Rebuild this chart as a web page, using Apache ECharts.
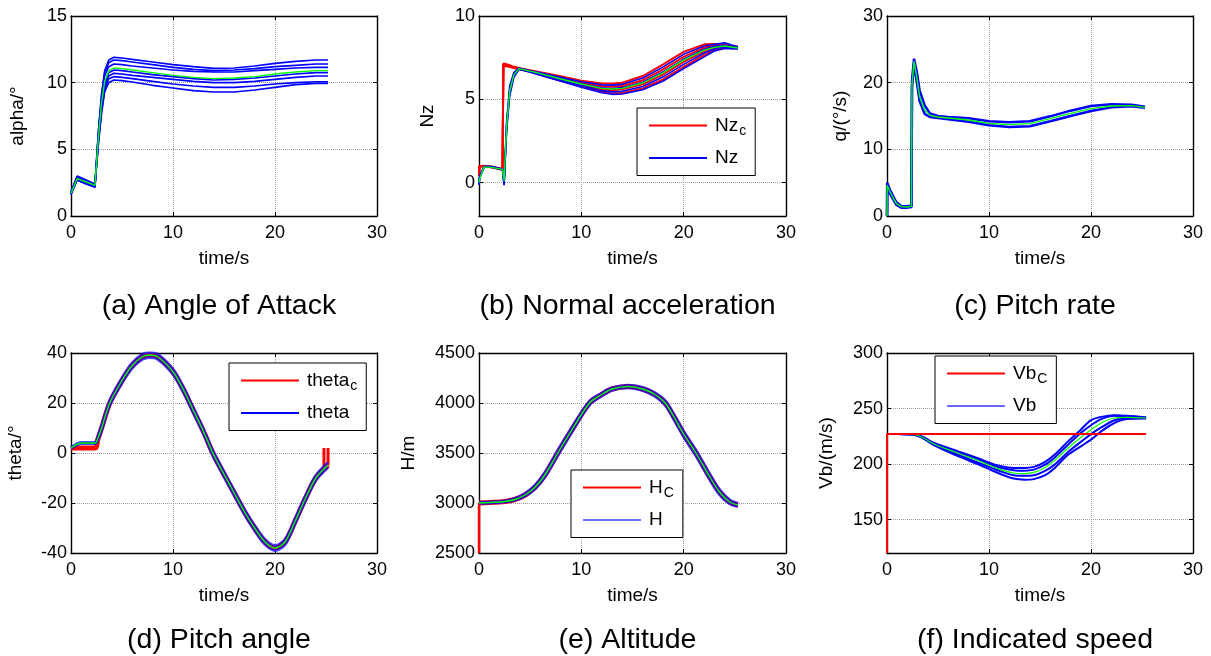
<!DOCTYPE html>
<html lang="en">
<head>
<meta charset="UTF-8">
<title>Flight response</title>
<script src="https://cdn.jsdelivr.net/npm/echarts@6/dist/echarts.min.js"></script>
<style>
  html, body { margin: 0; padding: 0; background: #fff; }
  #chart { width: 1211px; height: 656px; }
</style>
</head>
<body>
<div id="chart"></div>
<script>
// (a) angle of attack
var tA = [0, 0.6, 1.5, 2.35, 2.45, 2.7, 3.0, 3.3, 3.7, 4.2, 5, 6, 8, 10, 12, 14, 16, 18, 20, 22, 24, 25.2];
var alphaNom = [1.7, 2.8, 2.55, 2.3, 3.4, 6.0, 8.5, 10.1, 10.9, 11.1, 11.05, 10.95, 10.75, 10.55, 10.4, 10.3, 10.35, 10.45, 10.65, 10.8, 10.9, 10.9];
var alpha1 = [1.8, 3.0, 2.7, 2.4, 3.6, 6.5, 9.2, 10.9, 11.7, 11.9, 11.85, 11.75, 11.55, 11.35, 11.2, 11.07, 11.1, 11.25, 11.45, 11.6, 11.7, 11.7];
var alpha2 = [1.8, 2.95, 2.65, 2.35, 3.5, 6.4, 9.0, 10.7, 11.5, 11.7, 11.65, 11.55, 11.35, 11.15, 11.0, 10.9, 10.95, 11.05, 11.2, 11.3, 11.4, 11.4];
var alpha3 = [1.75, 2.9, 2.6, 2.3, 3.5, 6.3, 8.8, 10.5, 11.2, 11.4, 11.35, 11.25, 11.1, 10.95, 10.85, 10.8, 10.8, 10.9, 11.0, 11.1, 11.15, 11.15];
var alpha4 = [1.7, 2.8, 2.5, 2.25, 3.4, 5.9, 8.3, 9.9, 10.75, 10.95, 10.9, 10.8, 10.6, 10.45, 10.3, 10.2, 10.25, 10.35, 10.5, 10.65, 10.75, 10.75];
var alpha5 = [1.65, 2.75, 2.45, 2.2, 3.3, 5.8, 8.1, 9.7, 10.5, 10.7, 10.65, 10.55, 10.4, 10.25, 10.1, 10.0, 10.0, 10.1, 10.25, 10.4, 10.5, 10.5];
var alpha6 = [1.65, 2.7, 2.4, 2.2, 3.3, 5.6, 7.9, 9.5, 10.3, 10.45, 10.4, 10.3, 10.1, 9.9, 9.75, 9.65, 9.65, 9.75, 9.9, 10.0, 10.07, 10.07];
var alpha7 = [1.6, 2.7, 2.4, 2.15, 3.2, 5.5, 7.7, 9.3, 10.0, 10.2, 10.15, 10.05, 9.8, 9.6, 9.4, 9.3, 9.3, 9.45, 9.65, 9.85, 9.95, 9.95];

// (b) normal acceleration
var tB = [0, 0.05, 0.5, 1.2, 2.3, 2.38, 2.45, 2.7, 3.0, 3.4, 3.9, 5, 6, 8, 10, 12, 13, 14, 16, 18, 20, 22, 23, 24, 25.3];
var nzCmd1 = [0.4, 1.0, 1.02, 0.97, 0.82, 7.15, 7.15, 7.1, 7.05, 6.95, 6.88, 6.75, 6.62, 6.38, 6.12, 5.95, 5.95, 6.0, 6.4, 7.1, 7.85, 8.3, 8.32, 8.3, 8.15];
var nzCmd2 = [0.4, 1.0, 1.0, 0.95, 0.8, 7.1, 7.1, 7.05, 7.0, 6.92, 6.85, 6.7, 6.57, 6.28, 6.0, 5.78, 5.75, 5.8, 6.15, 6.8, 7.55, 8.1, 8.25, 8.28, 8.12];
var nzCmd3 = [0.4, 0.98, 0.98, 0.93, 0.78, 7.05, 7.05, 7.0, 6.97, 6.9, 6.83, 6.68, 6.52, 6.2, 5.88, 5.6, 5.55, 5.6, 5.9, 6.5, 7.25, 7.9, 8.1, 8.2, 8.1];
var nzCmd4 = [0.4, 0.97, 0.97, 0.92, 0.77, 7.0, 7.0, 6.98, 6.95, 6.88, 6.8, 6.65, 6.48, 6.12, 5.78, 5.45, 5.35, 5.38, 5.65, 6.2, 6.95, 7.65, 7.95, 8.1, 8.05];
var nz1 = [-0.1, 0.35, 0.98, 0.97, 0.82, 0.72, -0.1, 3.7, 5.8, 6.6, 6.88, 6.72, 6.6, 6.33, 6.06, 5.87, 5.85, 5.9, 6.28, 6.95, 7.7, 8.2, 8.3, 8.4, 8.14];
var nz2 = [-0.1, 0.3, 0.96, 0.95, 0.8, 0.7, -0.15, 3.5, 5.6, 6.5, 6.85, 6.69, 6.55, 6.24, 5.94, 5.69, 5.65, 5.7, 6.02, 6.65, 7.4, 8.0, 8.18, 8.25, 8.1];
var nz3 = [-0.1, 0.28, 0.95, 0.94, 0.79, 0.69, -0.1, 3.3, 5.4, 6.4, 6.82, 6.66, 6.5, 6.16, 5.83, 5.52, 5.45, 5.48, 5.77, 6.35, 7.1, 7.78, 8.02, 8.15, 8.06];
var nz4 = [-0.1, 0.25, 0.94, 0.93, 0.78, 0.68, -0.05, 3.1, 5.2, 6.3, 6.8, 6.63, 6.45, 6.08, 5.72, 5.4, 5.3, 5.32, 5.58, 6.1, 6.85, 7.55, 7.9, 8.05, 8.02];
var nzNom = [0.0, 0.2, 0.95, 0.92, 0.8, 0.74, 0.1, 3.4, 5.5, 6.45, 6.84, 6.69, 6.54, 6.22, 5.92, 5.66, 5.62, 5.66, 5.98, 6.6, 7.35, 7.95, 8.12, 8.2, 8.08];

// (c) pitch rate
var tC = [0, 0.02, 0.3, 0.9, 1.4, 1.9, 2.4, 2.45, 2.65, 2.95, 3.2, 3.7, 4.2, 5, 6, 8, 10, 12, 14, 16, 18, 20, 22, 24, 25.3];
var qNom = [0, 4.6, 3.6, 1.9, 1.4, 1.35, 1.45, 19.8, 23.2, 20.5, 17.9, 15.9, 15.1, 14.85, 14.7, 14.4, 13.9, 13.7, 13.85, 14.6, 15.4, 16.1, 16.5, 16.55, 16.3];
var qHi = [0, 5.0, 3.9, 2.1, 1.5, 1.45, 1.55, 20.3, 23.6, 21.4, 18.8, 16.6, 15.4, 15.0, 14.85, 14.65, 14.2, 14.05, 14.2, 14.95, 15.8, 16.5, 16.75, 16.7, 16.4];
var qLo = [0, 4.2, 3.3, 1.7, 1.25, 1.25, 1.35, 19.3, 22.8, 19.8, 17.2, 15.3, 14.85, 14.7, 14.5, 14.15, 13.6, 13.35, 13.45, 14.2, 15.0, 15.75, 16.3, 16.45, 16.25];

// (d) pitch angle
var tD = [0, 0.5, 1.0, 2.4, 2.6, 3.0, 3.8, 5, 6, 7, 7.7, 8.5, 10, 11, 12, 13, 13.9, 15, 16, 17, 18, 19, 20, 21, 22, 23, 24, 25.2];
var thetaNom = [2.0, 3.3, 4.0, 4.0, 5.5, 10, 20, 29, 35, 38.5, 39.2, 38.5, 32.5, 25.5, 17, 8.5, 0, -8.5, -16, -23.5, -30, -35.5, -38, -35.5, -27, -18, -10, -4.8];
var thetaHi = [2.2, 3.5, 4.2, 4.2, 6.3, 11, 21, 30, 36, 39.5, 40.2, 39.5, 33.5, 26.5, 18, 9.5, 1, -7.5, -15, -22.5, -29, -34.5, -37, -34.5, -26, -17, -9, -3.8];
var thetaLo = [1.8, 3.1, 3.8, 3.8, 4.8, 9, 19, 28, 34, 37.5, 38.2, 37.5, 31.5, 24.5, 16, 7.5, -1, -9.5, -17, -24.5, -31, -36.5, -39, -36.5, -28, -19, -11, -5.8];
var tDCmd = [0, 0.5, 1.0, 2.4, 2.6, 3.0, 3.8, 5, 6, 7, 7.7, 8.5, 10, 11, 12, 13, 13.9, 15, 16, 17, 18, 19, 20, 21, 22, 23, 24, 25.2];
var thetaCmd = [2.0, 2.0, 2.0, 2.0, 5.0, 10, 20, 29, 35, 38.5, 39.2, 38.5, 32.5, 25.5, 17, 8.5, 0, -8.5, -16, -23.5, -30, -35.5, -38, -35.5, -27, -18, -10, -4.8];
var tDCmdEnd1 = [25.2, 25.2];
var thetaCmdEnd1 = [-4.8, 2.0];
var tDCmdEnd2 = [24.8, 24.8];
var thetaCmdEnd2 = [-6.5, 2.0];

// (e) altitude
var tE = [0, 1, 2.5, 3.5, 4.5, 5.5, 6.5, 7.7, 9, 10.8, 12, 13, 14.6, 16, 17.2, 18.2, 19, 20, 21.2, 22.5, 23.5, 24.5, 25.3];
var hNom = [3000, 3005, 3015, 3035, 3080, 3160, 3290, 3500, 3720, 4000, 4085, 4140, 4165, 4140, 4085, 4000, 3870, 3690, 3500, 3270, 3110, 3010, 2980];
var hHi = [3005, 3010, 3020, 3045, 3095, 3180, 3315, 3525, 3745, 4018, 4100, 4152, 4178, 4155, 4102, 4022, 3895, 3718, 3528, 3298, 3135, 3030, 2995];
var hLo = [2995, 3000, 3010, 3028, 3068, 3142, 3268, 3475, 3695, 3982, 4070, 4128, 4152, 4125, 4068, 3978, 3845, 3662, 3472, 3242, 3085, 2992, 2965];
var hCmd = [3000, 3005, 3015, 3035, 3080, 3160, 3290, 3500, 3720, 4000, 4085, 4140, 4165, 4140, 4085, 4000, 3870, 3690, 3500, 3270, 3110, 3010, 2980];
var tEStep = [0, 0];
var hStep = [2500, 3000];

// (f) indicated speed
var tF = [0, 1, 2.7, 3.5, 4.5, 6, 7.8, 9, 10, 11, 12.4, 13.5, 14.4, 15.5, 16.5, 17.7, 19, 20, 21, 22.3, 23.5, 25.4];
var vbNom = [227, 227, 226.5, 224, 218.5, 213, 207, 203, 199, 195.5, 192, 191.5, 192.5, 197, 204, 214, 224, 231, 237, 241.5, 242, 241.5];
var vb1 = [227, 227, 226.8, 224.5, 219.5, 214.5, 209, 205, 201.5, 198.5, 196.5, 196.5, 197.5, 202, 209, 220, 231, 239.5, 242.5, 244, 243.5, 242];
var vb2 = [227, 227, 226.6, 224.2, 219, 213.8, 208, 204, 200.3, 197, 194.5, 194, 195, 199.5, 206.5, 217, 228, 235, 240.5, 243.5, 243, 242];
var vb3 = [227, 227, 226.4, 223.8, 218, 212, 205.5, 201, 197.5, 194, 190, 189.5, 190, 194, 200, 210.5, 220, 227, 233, 239.5, 241.5, 241.5];
var vb4 = [227, 227, 226.2, 223.5, 217.5, 211, 204, 199.5, 195.5, 191.5, 187, 186, 186.5, 190, 197, 208, 216, 222, 229.5, 237, 240.5, 241];
var tFCmd = [0, 0, 25.4];
var vbCmd = [120, 227, 227];

var xTicks = { min: 0, max: 30, interval: 10 };

var FONT = '"Liberation Sans", Arial, sans-serif';
var RED = '#ff0000', BLUE = '#0000ff', GREEN = '#00ff00';

var panels = [
  { left: 71,  top: 16,  width: 306, y: { min: 0, max: 15, interval: 5 }, yname: 'alpha/°', ygap: 44, title: '(a) Angle of Attack' },
  { left: 479, top: 16,  width: 307, y: { min: -2, max: 10, custom: [0, 5, 10] }, yname: 'Nz', ygap: 42, title: '(b) Normal acceleration' },
  { left: 887, top: 16,  width: 306, y: { min: 0, max: 30, interval: 10 }, yname: 'q/(°/s)', ygap: 37, title: '(c) Pitch rate' },
  { left: 71,  top: 353, width: 306, y: { min: -40, max: 40, interval: 20 }, yname: 'theta/°', ygap: 46, title: '(d) Pitch angle' },
  { left: 479, top: 353, width: 307, y: { min: 2500, max: 4500, interval: 500 }, yname: 'H/m', ygap: 61, title: '(e) Altitude' },
  { left: 887, top: 353, width: 306, y: { min: 120, max: 300, custom: [150, 200, 250, 300] }, yname: 'Vb/(m/s)', ygap: 51, title: '(f) Indicated speed' }
];

var grids = [], xAxes = [], yAxes = [], series = [], titles = [], legends = [];

function pairs(t, v) {
  return t.map(function (x, i) { return [x, v[i]]; });
}

function plain(v) { return String(v); }

function axisCommon(extra) {
  var a = {
    type: 'value',
    axisLine: { show: true, onZero: false, lineStyle: { color: '#000', width: 1.4 } },
    axisTick: { show: true, inside: true, length: 4, lineStyle: { color: '#000' } },
    axisLabel: { show: false },
    splitLine: { show: false }
  };
  for (var k in extra) a[k] = extra[k];
  return a;
}

function applyRange(ax, r) {
  ax.min = r.min; ax.max = r.max;
  if (r.custom) {
    ax.axisTick.customValues = r.custom;
    if (ax.axisLabel.show) ax.axisLabel.customValues = r.custom;
  } else {
    ax.interval = r.interval;
  }
  return ax;
}

panels.forEach(function (p, i) {
  grids.push({ left: p.left, top: p.top, width: p.width, height: 200 });

  var xb = axisCommon({ gridIndex: i, position: 'bottom', name: 'time/s', nameLocation: 'middle', nameGap: 33,
    nameTextStyle: { color: '#000', fontSize: 19, fontFamily: FONT } });
  xb.axisLabel = { show: true, color: '#000', fontSize: 18, fontFamily: FONT, margin: 8, formatter: plain };
  xb.splitLine = { show: true, lineStyle: { color: '#9a9a9a', type: 'dotted', width: 1 } };
  xAxes.push(applyRange(xb, xTicks));
  xAxes.push(applyRange(axisCommon({ gridIndex: i, position: 'top' }), xTicks));

  var yl = axisCommon({ gridIndex: i, position: 'left', name: p.yname, nameLocation: 'middle', nameGap: p.ygap,
    nameTextStyle: { color: '#000', fontSize: 19, fontFamily: FONT } });
  yl.axisLabel = { show: true, color: '#000', fontSize: 18, fontFamily: FONT, margin: 4, formatter: plain };
  yl.splitLine = { show: true, lineStyle: { color: '#9a9a9a', type: 'dotted', width: 1 } };
  yAxes.push(applyRange(yl, p.y));
  yAxes.push(applyRange(axisCommon({ gridIndex: i, position: 'right' }), p.y));

  titles.push({
    text: p.title, left: p.left + p.width / 2 - 5, top: i < 3 ? 306 : 640,
    textAlign: 'center', textVerticalAlign: 'middle', padding: 0,
    textStyle: { color: '#000', fontSize: 28.5, fontWeight: 'normal', fontFamily: FONT }
  });
});

function line(panel, t, v, color, width, name, opacity, smooth) {
  var s = {
    type: 'line', xAxisIndex: panel * 2, yAxisIndex: panel * 2,
    data: pairs(t, v), showSymbol: false, symbol: 'none', color: color,
    lineStyle: { color: color, width: width, opacity: opacity == null ? 1 : opacity },
    silent: true, animation: false, clip: true
  };
  if (smooth) s.smooth = smooth;
  if (name) s.name = name;
  series.push(s);
}

// (a)
[alpha1, alpha2, alpha3, alpha4, alpha5, alpha6, alpha7].forEach(function (v) { line(0, tA, v, BLUE, 1.6); });
line(0, tA, alphaNom, GREEN, 1.4);

// (b)
[nzCmd1, nzCmd2, nzCmd3, nzCmd4].forEach(function (v) { line(1, tB, v, RED, 2, 'Nz_c'); });
[nz1, nz2, nz3, nz4].forEach(function (v) { line(1, tB, v, BLUE, 1.6, 'Nz'); });
line(1, tB, nzNom, GREEN, 1.4);

// (c)
line(2, tC, qHi, BLUE, 2.5);
line(2, tC, qLo, BLUE, 2.5);
line(2, tC, qNom, GREEN, 1.4);

// (d)
line(3, tDCmd, thetaCmd, RED, 5, 'theta_c', 1, 0.3);
line(3, tDCmdEnd1, thetaCmdEnd1, RED, 3, 'theta_c');
line(3, tDCmdEnd2, thetaCmdEnd2, RED, 3, 'theta_c');
line(3, tD, thetaHi, BLUE, 3, 'theta', 0.7, 0.3);
line(3, tD, thetaLo, BLUE, 3, 'theta', 0.7, 0.3);
line(3, tD, thetaNom, GREEN, 1.4, null, 1, 0.3);

// (e)
line(4, tE, hCmd, RED, 5, 'H_C', 1, 0.3);
line(4, tEStep, hStep, RED, 2.5, 'H_C');
line(4, tE, hHi, BLUE, 3, 'H', 0.7, 0.3);
line(4, tE, hLo, BLUE, 3, 'H', 0.7, 0.3);
line(4, tE, hNom, GREEN, 1.4, null, 1, 0.3);

// (f)
[vb1, vb2, vb3, vb4].forEach(function (v) { line(5, tF, v, BLUE, 2, 'Vb', 1, 0.3); });
line(5, tF, vbNom, GREEN, 1.2, null, 1, 0.3);
line(5, tFCmd, vbCmd, RED, 2, 'Vb_C');

function legendBox(left, top, items) {
  return {
    orient: 'vertical', left: left, top: top, icon: 'rect', itemWidth: 58, itemHeight: 2, itemGap: 10,
    padding: [8, 9, 8, 12], borderColor: '#000', borderWidth: 1, backgroundColor: '#fff',
    selectedMode: false, data: items,
    formatter: function (name) {
      var parts = name.split('_');
      return parts.length > 1 ? '{m|' + parts[0] + '}{s|' + parts[1] + '}' : '{m|' + name + '}';
    },
    textStyle: {
      color: '#000', fontSize: 19, fontFamily: FONT,
      rich: {
        m: { color: '#000', fontSize: 19, fontFamily: FONT, padding: [0, 0, 0, 3] },
        s: { color: '#000', fontSize: 14, fontFamily: FONT, padding: [12, 0, 0, 1] }
      }
    }
  };
}

legends.push(legendBox(637, 108, ['Nz_c', 'Nz']));
legends.push(legendBox(229, 363, ['theta_c', 'theta']));
legends.push(legendBox(571, 470, ['H_C', { name: 'H', itemStyle: { color: '#6b6bff' } }]));
legends.push(legendBox(935, 356, ['Vb_C', { name: 'Vb', itemStyle: { color: '#6b6bff' } }]));

var chart = echarts.init(document.getElementById('chart'));
chart.setOption({
  backgroundColor: '#fff',
  animation: false,
  title: titles,
  legend: legends,
  grid: grids,
  xAxis: xAxes,
  yAxis: yAxes,
  series: series
});
</script>
</body>
</html>
